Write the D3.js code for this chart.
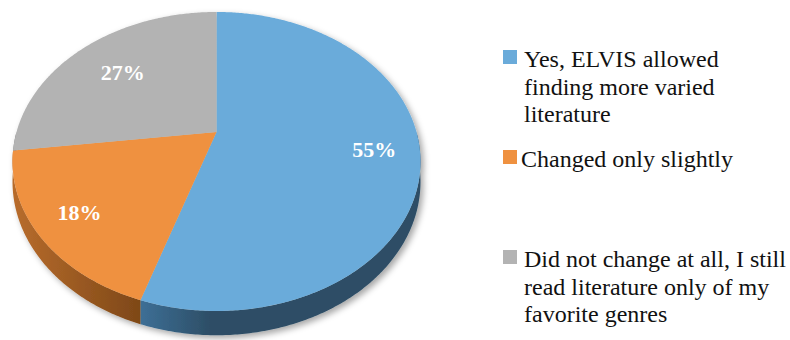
<!DOCTYPE html>
<html>
<head>
<meta charset="utf-8">
<script src="https://cdn.jsdelivr.net/npm/d3@7/dist/d3.min.js"></script>
<style>
  html, body { margin: 0; padding: 0; background: #fff; }
  svg { display: block; }
  .serif { font-family: "Liberation Serif", "Times New Roman", Tinos, "DejaVu Serif", serif; }
</style>
</head>
<body>
<svg id="chart" width="790" height="340"></svg>
<script>
// ---- data ----
const categories = [
  "Yes, ELVIS allowed\nfinding more varied\nliterature",
  "Changed only slightly",
  "Did not change at all, I still\nread literature only of my\nfavorite genres"
];
const values = [55, 18, 27];
const valueLabels = ["55%", "18%", "27%"];

// ---- style ----
const topColors  = ["#6aabda", "#ef9140", "#b3b3b3"];
const sideLight  = ["#3d6f96", "#b86c2c", "#8a8a8a"];
const sideDark   = ["#2d4e66", "#7e4818", "#6a6a6a"];

const svg = d3.select("#chart");

// projection parameters (tilted disk with perspective)
const cx = 216.5, cy = 132;
const B = 200, A = 143.7, P = 0.197, DEPTH = 19.5;

function proj(theta, r, down) {
  const u = Math.sin(theta) * r, v = Math.cos(theta) * r;
  const w = 1 + P * v;
  return [cx + B * u / w, cy - A * v / w + (down ? DEPTH / w : 0)];
}

const pie = d3.pie().sort(null).value(d => d).startAngle(0).endAngle(2 * Math.PI);
const arcs = pie(values);

const line = d3.line().x(d => d[0]).y(d => d[1]);

function arcPoints(a0, a1, down) {
  const n = Math.max(2, Math.ceil((a1 - a0) / 0.01));
  return d3.range(n + 1).map(i => proj(a0 + (a1 - a0) * i / n, 1, down));
}

const defs = svg.append("defs");
const filt = defs.append("filter").attr("id", "shadow")
  .attr("x", "-10%").attr("y", "-10%").attr("width", "130%").attr("height", "130%");
filt.append("feDropShadow").attr("dx", 3).attr("dy", 3).attr("stdDeviation", 3)
  .attr("flood-color", "#000").attr("flood-opacity", 0.35);

const pieG = svg.append("g").attr("filter", "url(#shadow)");

// side strips (front half only)
const frontA0 = Math.PI / 2, frontA1 = 3 * Math.PI / 2;
arcs.forEach((a, i) => {
  const s = Math.max(a.startAngle, frontA0), e = Math.min(a.endAngle, frontA1);
  if (e <= s) return;
  const top = arcPoints(s, e, false);
  const bot = arcPoints(s, e, true).reverse();
  const pts = top.concat(bot);
  const xs = pts.map(p => p[0]);
  const gid = "side" + i;
  const g = defs.append("linearGradient").attr("id", gid)
    .attr("gradientUnits", "userSpaceOnUse")
    .attr("x1", d3.min(xs)).attr("x2", d3.max(xs)).attr("y1", 0).attr("y2", 0);
  if (i === 0) {
    g.append("stop").attr("offset", "0").attr("stop-color", sideLight[i]);
    g.append("stop").attr("offset", "0.25").attr("stop-color", sideDark[i]);
    g.append("stop").attr("offset", "1").attr("stop-color", sideDark[i]);
  } else {
    g.append("stop").attr("offset", "0").attr("stop-color", sideLight[i]);
    g.append("stop").attr("offset", "1").attr("stop-color", sideDark[i]);
  }
  pieG.append("path")
    .attr("d", line(pts) + "Z")
    .attr("fill", "url(#" + gid + ")");
});

// top faces
arcs.forEach((a, i) => {
  const pts = [proj(0, 0, false)].concat(arcPoints(a.startAngle, a.endAngle, false));
  pieG.append("path")
    .attr("d", line(pts) + "Z")
    .attr("fill", topColors[i]);
});

// value labels
const labelR = [0.78, 0.80, 0.68];
arcs.forEach((a, i) => {
  const mid = (a.startAngle + a.endAngle) / 2;
  const p = proj(mid, labelR[i], false);
  svg.append("text")
    .attr("class", "serif")
    .attr("x", p[0]).attr("y", p[1] + 7)
    .attr("text-anchor", "middle")
    .attr("font-weight", "bold")
    .attr("font-size", 22)
    .attr("fill", "#fff")
    .text(valueLabels[i]);
});

// legend
const legY = d3.scalePoint().domain(d3.range(categories.length)).range([67, 267]);
const legend = svg.append("g");
categories.forEach((c, i) => {
  const y0 = legY(i);
  legend.append("rect")
    .attr("x", 503).attr("y", y0 - 17).attr("width", 14).attr("height", 14)
    .attr("fill", topColors[i]);
  const t = legend.append("text")
    .attr("class", "serif")
    .attr("font-size", 24)
    .attr("fill", "#111");
  c.split("\n").forEach((ln, j) => {
    t.append("tspan").attr("x", i === 1 ? 521 : 524).attr("y", y0 + j * 27.5).text(ln);
  });
});
</script>
</body>
</html>
